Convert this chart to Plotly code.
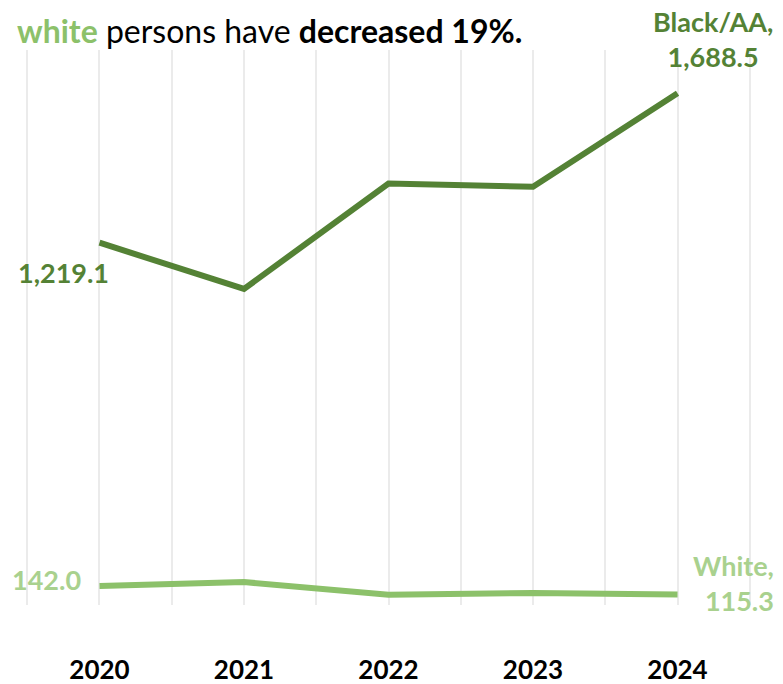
import plotly.graph_objects as go

years = [2020, 2021, 2022, 2023, 2024]
black_aa = [1219.1, 1074.0, 1405.0, 1395.0, 1688.5]
white = [142.0, 154.0, 114.0, 120.0, 115.3]

DARK = "#548235"
LIGHT_LINE = "#8cc16a"
LIGHT_TEXT = "#a9d18e"
FONT = "Lato"

fig = go.Figure()
fig.add_trace(go.Scatter(x=years, y=black_aa, mode="lines",
                         line=dict(color=DARK, width=6), hoverinfo="skip"))
fig.add_trace(go.Scatter(x=years, y=white, mode="lines",
                         line=dict(color=LIGHT_LINE, width=6), hoverinfo="skip"))

L, R, T, B = 20, 26, 50, 79
W, H = 783, 684
pw, ph = W - L - R, H - T - B

def px(x):
    return (x - L) / pw

def py(y):
    return (H - B - y) / ph

annos = [
    dict(x=px(15), y=py(31), xref="paper", yref="paper", xanchor="left", yanchor="middle",
         text=f"<span style='color:{LIGHT_LINE}'><b>white</b></span> persons have <b>decreased 19%.</b>",
         font=dict(size=32, color="black", family=FONT)),
    dict(x=years[-1], y=black_aa[-1], xref="x", yref="y", xshift=35, yshift=54,
         xanchor="center", yanchor="middle", align="center",
         text="<b>Black/AA,<br>1,688.5</b>", font=dict(size=27, color=DARK, family=FONT)),
    dict(x=years[0], y=black_aa[0], xref="x", yref="y", xshift=12, yshift=-30,
         xanchor="right", yanchor="middle",
         text="<b>1,219.1</b>", font=dict(size=27, color=DARK, family=FONT)),
    dict(x=years[0], y=white[0], xref="x", yref="y", xshift=-16, yshift=6,
         xanchor="right", yanchor="middle",
         text="<b>142.0</b>", font=dict(size=27, color=LIGHT_TEXT, family=FONT)),
    dict(x=years[-1], y=white[-1], xref="x", yref="y", xshift=98, yshift=11,
         xanchor="right", yanchor="middle", align="right",
         text="<b>White,<br>115.3</b>", font=dict(size=27, color=LIGHT_TEXT, family=FONT)),
]
for a in annos:
    a["showarrow"] = False
    fig.add_annotation(**a)

fig.update_layout(
    width=W, height=H, margin=dict(l=L, r=R, t=T, b=B, autoexpand=False),
    paper_bgcolor="white", plot_bgcolor="white", showlegend=False,
    xaxis=dict(range=[2019.45, 2024.55], tickvals=years, ticktext=[f"<b>{y}</b>" for y in years],
               automargin=False,
               showgrid=True, gridcolor="#ebebeb", gridwidth=2, zeroline=False,
               showline=False, ticks="outside", ticklen=42, tickcolor="rgba(0,0,0,0)",
               tickfont=dict(size=26, color="black", family=FONT),
               minor=dict(tick0=2019.5, dtick=1, showgrid=True, gridcolor="#ebebeb", gridwidth=2)),
    yaxis=dict(range=[82, 1824], visible=False, showgrid=False, zeroline=False, automargin=False),
)

fig.write_html("out.html", config={"displayModeBar": False},
               post_script="document.body.style.margin='0';document.body.style.overflow='hidden';")
